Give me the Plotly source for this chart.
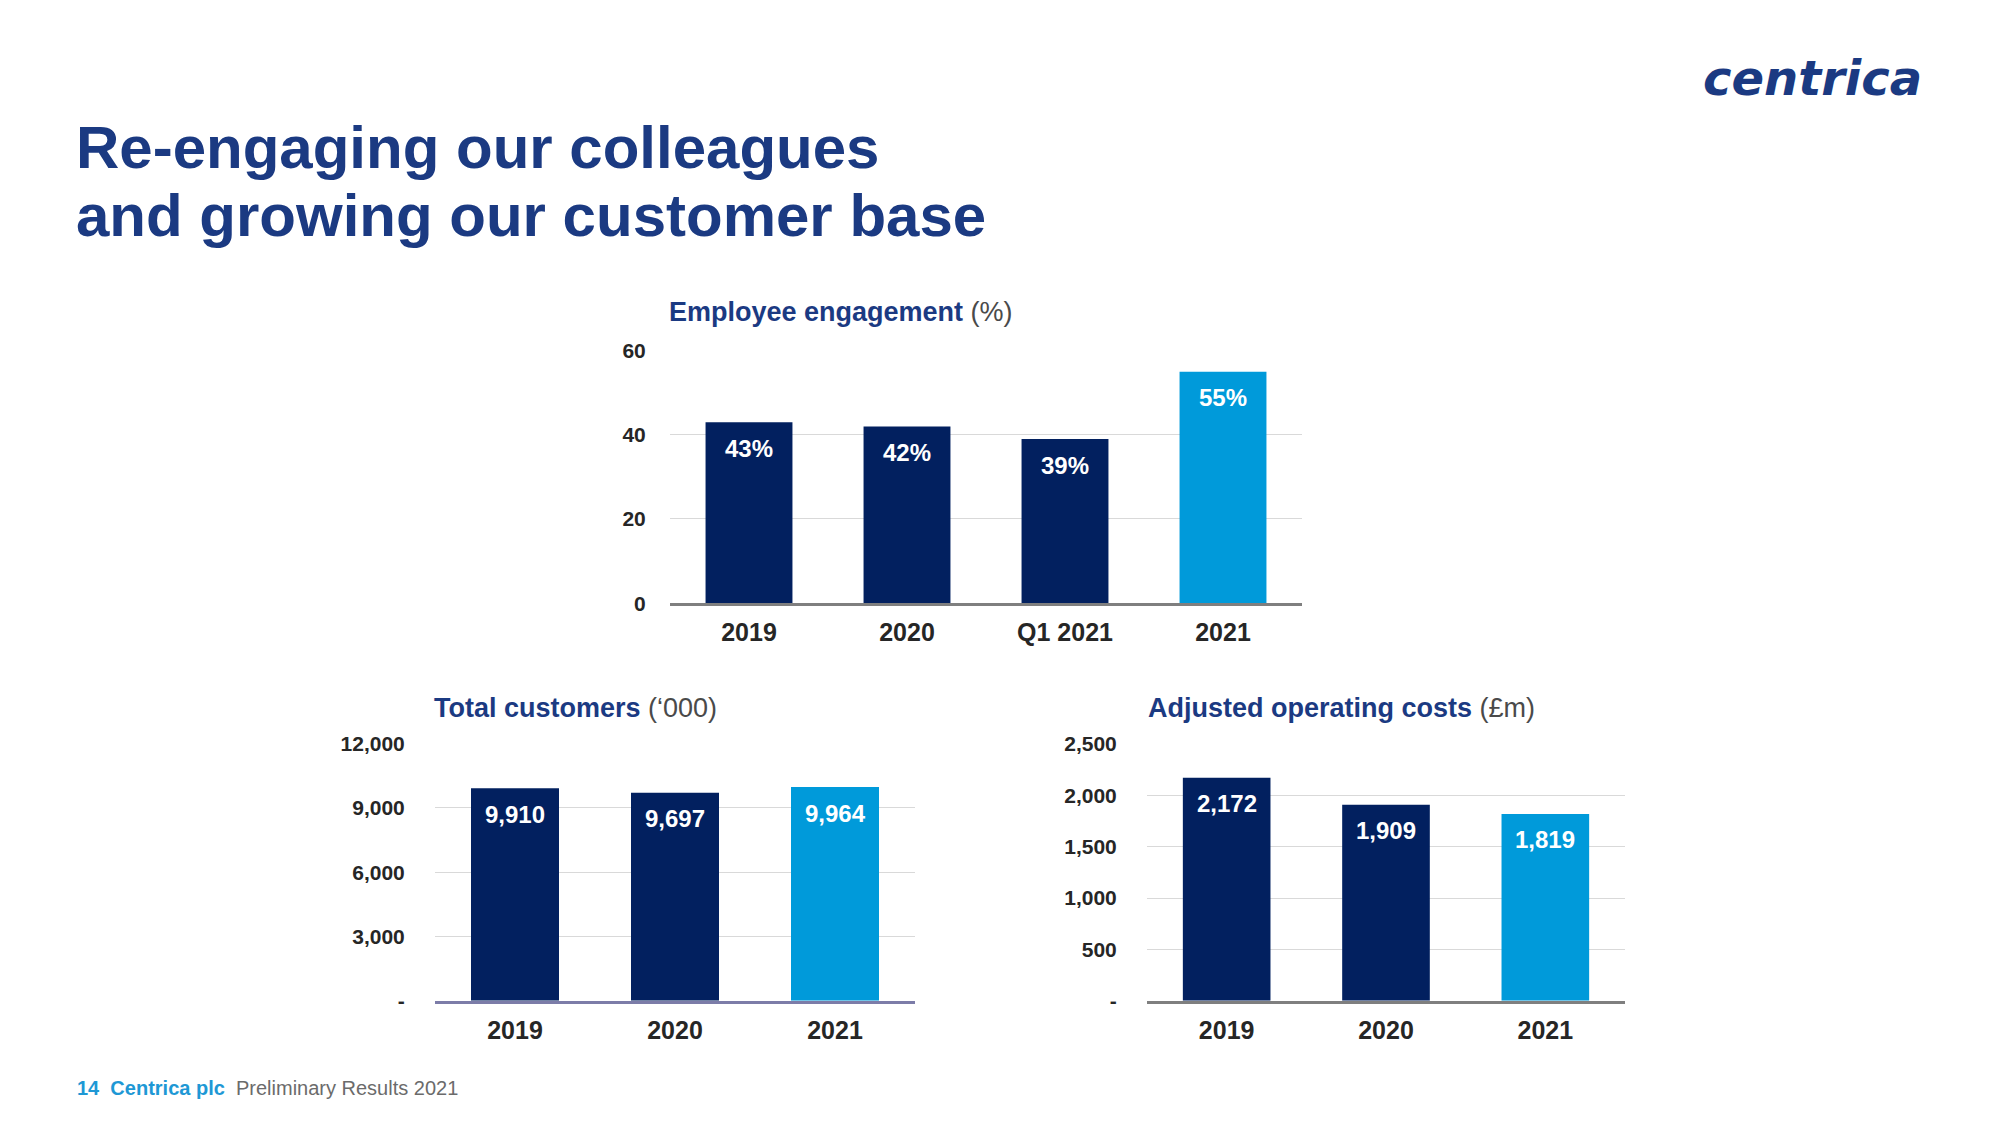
import plotly.graph_objects as go

# ---------------- data ----------------
eng_cats = ["2019", "2020", "Q1 2021", "2021"]
eng_vals = [43, 42, 39, 55]
eng_labels = ["43%", "42%", "39%", "55%"]
eng_tickvals = [0, 20, 40, 60]
eng_ticktext = ["0", "20", "40", "60"]

cust_cats = ["2019", "2020", "2021"]
cust_vals = [9910, 9697, 9964]
cust_labels = ["9,910", "9,697", "9,964"]
cust_tickvals = [0, 3000, 6000, 9000, 12000]
cust_ticktext = ["-", "3,000", "6,000", "9,000", "12,000"]

cost_cats = ["2019", "2020", "2021"]
cost_vals = [2172, 1909, 1819]
cost_labels = ["2,172", "1,909", "1,819"]
cost_tickvals = [0, 500, 1000, 1500, 2000, 2500]
cost_ticktext = ["-", "500", "1,000", "1,500", "2,000", "2,500"]

# ---------------- styles ----------------
W, H = 2000, 1125
NAVY = "#02205F"
LIGHT = "#009ADA"
TITLE_BLUE = "#1B3A82"
TICK = "#262626"
GRID = "#D9D9D9"
FONT = "Liberation Sans, Arial, sans-serif"


def px(x):
    return x / W


def py(y):
    return 1 - y / H


def colors(n):
    return [NAVY] * (n - 1) + [LIGHT]


fig = go.Figure()
fig.add_trace(go.Bar(x=eng_cats, y=eng_vals, marker_color=colors(len(eng_cats)),
                     marker_line_width=0, xaxis="x", yaxis="y", hoverinfo="skip"))
fig.add_trace(go.Bar(x=cust_cats, y=cust_vals, marker_color=colors(len(cust_cats)),
                     marker_line_width=0, xaxis="x2", yaxis="y2", hoverinfo="skip"))
fig.add_trace(go.Bar(x=cost_cats, y=cost_vals, marker_color=colors(len(cost_cats)),
                     marker_line_width=0, xaxis="x3", yaxis="y3", hoverinfo="skip"))


def xax(domain, anchor, linecolor, cats):
    return dict(type="category", categoryorder="array", categoryarray=cats,
                range=[-0.5, len(cats) - 0.5], autorange=False,
                domain=domain, anchor=anchor, showline=True,
                linecolor=linecolor, linewidth=3, ticks="outside", ticklen=5,
                tickcolor="rgba(0,0,0,0)",
                tickfont=dict(family=FONT, size=25, color=TICK, weight="bold"),
                showgrid=False, zeroline=False, fixedrange=True)


def yax(domain, anchor, rng, tv, tt, ticklen):
    return dict(domain=domain, anchor=anchor, range=rng, autorange=False,
                tickvals=tv, ticktext=tt,
                showgrid=True, gridcolor=GRID, gridwidth=1, zeroline=False,
                showline=False, ticks="outside", ticklen=ticklen,
                tickcolor="rgba(0,0,0,0)",
                tickfont=dict(family=FONT, size=21, color=TICK, weight="bold"),
                fixedrange=True)


layout = dict(
    width=W, height=H, margin=dict(l=0, r=0, t=0, b=0),
    paper_bgcolor="white", plot_bgcolor="white", showlegend=False,
    bargap=0.45,
    xaxis=xax([px(670), px(1302)], "y", "#7F7F7F", eng_cats),
    yaxis=yax([py(603.5), py(345.7)], "x", [0, 60], eng_tickvals, eng_ticktext, 19),
    xaxis2=xax([px(435), px(915)], "y2", "#7C7CA8", cust_cats),
    yaxis2=yax([py(1009.5), py(746.7)], "x2", [0, 12000], cust_tickvals, cust_ticktext, 25),
    xaxis3=xax([px(1147), px(1625)], "y3", "#7F7F7F", cost_cats),
    yaxis3=yax([py(1009.5), py(747.3)], "x3", [0, 2500], cost_tickvals, cost_ticktext, 25),
)
fig.update_layout(**layout)

ann = []
# value labels inside bars (x given as category index)
for cats, vals, labels, xr, yr in [
    (eng_cats, eng_vals, eng_labels, "x", "y"),
    (cust_cats, cust_vals, cust_labels, "x2", "y2"),
    (cost_cats, cost_vals, cost_labels, "x3", "y3"),
]:
    for i, (v, t) in enumerate(zip(vals, labels)):
        ann.append(dict(x=i, y=v, xref=xr, yref=yr, text=t, showarrow=False,
                        yanchor="middle", yshift=-26,
                        font=dict(family=FONT, size=24, color="white", weight="bold")))

# chart titles
def sub(x, y, bold, rest):
    return dict(x=px(x), y=py(y), xref="paper", yref="paper", xanchor="left",
                yanchor="middle", showarrow=False,
                text=f"<b>{bold}</b> <span style='color:#4A4A4A'>{rest}</span>",
                font=dict(family=FONT, size=27, color=TITLE_BLUE))

ann.append(sub(667, 306, "Employee engagement", "(%)"))
ann.append(sub(432, 711, "Total customers", "(\u2018000)"))
ann.append(sub(1146, 711, "Adjusted operating costs", "(\u00a3m)"))

# headline
for i, line in enumerate(["Re-engaging our colleagues", "and growing our customer base"]):
    ann.append(dict(x=px(74), y=py(138 + 70 * i), xref="paper", yref="paper",
                    xanchor="left", yanchor="middle", showarrow=False,
                    text=f"<b>{line}</b>",
                    font=dict(family=FONT, size=60, color=TITLE_BLUE)))

# logo
ann.append(dict(x=px(1924), y=py(67), xref="paper", yref="paper", xanchor="right",
                yanchor="middle", showarrow=False, text="<b><i>centrica</i></b>",
                font=dict(family="DejaVu Sans, sans-serif", size=48, color=TITLE_BLUE)))

# footer
ann.append(dict(x=px(75), y=py(1098), xref="paper", yref="paper", xanchor="left",
                yanchor="middle", showarrow=False,
                text="<b>14\u00a0 Centrica plc</b>\u00a0 <span style='color:#6B6B6B'>Preliminary Results 2021</span>",
                font=dict(family=FONT, size=20, color="#1E98D5")))

fig.update_layout(annotations=ann)
fig.write_html("out.html", config={"displayModeBar": False},
               post_script="document.body.style.margin='0';document.body.style.overflow='hidden';")
